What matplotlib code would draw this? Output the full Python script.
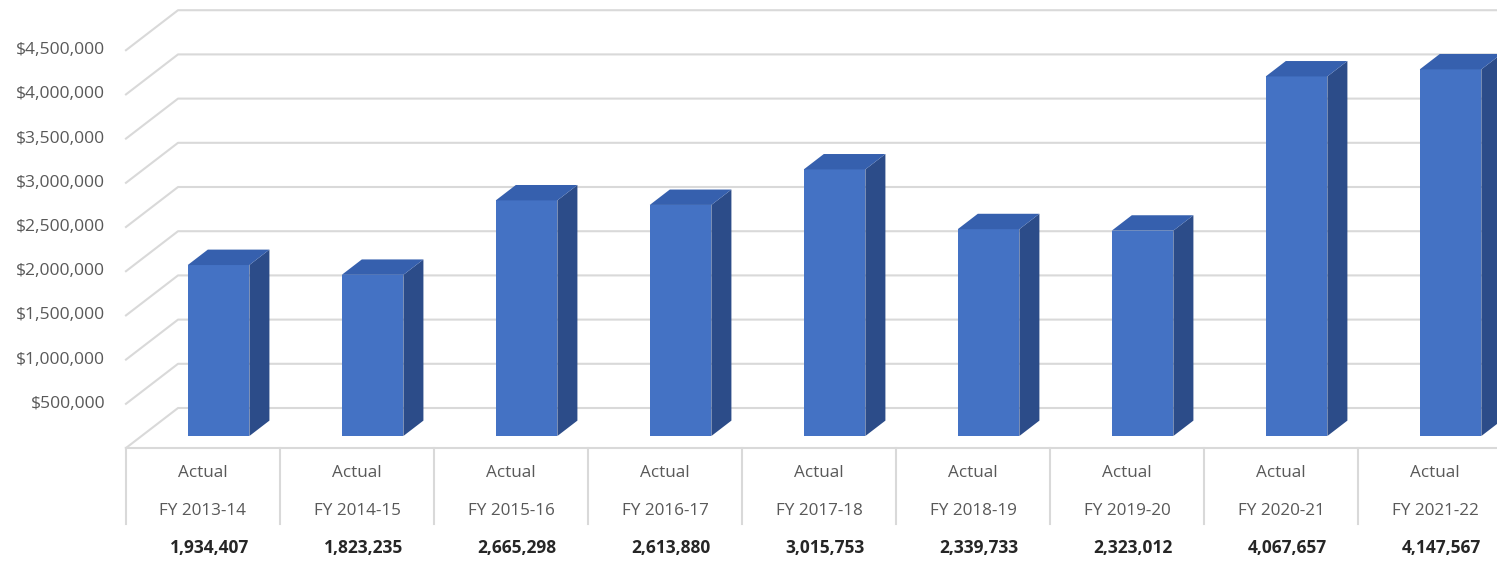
import numpy as np
import matplotlib.pyplot as plt

years = ['FY 2013-14', 'FY 2014-15', 'FY 2015-16', 'FY 2016-17', 'FY 2017-18',
         'FY 2018-19', 'FY 2019-20', 'FY 2020-21', 'FY 2021-22']
values = [1934407, 1823235, 2665298, 2613880, 3015753,
          2339733, 2323012, 4067657, 4147567]
yticks = [500000, 1000000, 1500000, 2000000, 2500000,
          3000000, 3500000, 4000000, 4500000]

plt.rcParams['font.family'] = ['Open Sans', 'DejaVu Sans']

front = '#4472C4'
top = '#3660AE'
side = '#2C4C89'
grid = '#D9D9D9'
txt = '#595959'

fig = plt.figure(figsize=[14.97, 5.65], dpi=100)
ax = fig.add_axes([0, 0, 1, 1])
ax.set_xlim(-1.318, 8.403)
ax.set_ylim(-1.3235e6, 5.068e6)
ax.axis('off')

# depth of the pseudo 3d box (category units, dollars)
ddx, ddy = 0.338, 0.4525e6
x0 = -0.5
xr = 8.403

# back wall gridlines and left wall diagonals
for v in [0] + yticks:
    ax.plot([x0, x0 + ddx, xr], [v, v + ddy, v + ddy], color=grid, lw=1.5, zorder=1)
    if v > 0:
        ax.text(x0 - 0.136, v, '${:,}'.format(v), ha='right', va='center',
                fontsize=12.6, color=txt)

# front floor edge / table top
ax.plot([x0, xr], [0, 0], color=grid, lw=1.5, zorder=1)

# bars
d0, d1 = 0.3, 0.685
w = 0.40
for i, v in enumerate(values):
    xl = i + d0 * ddx - w / 2
    xR = xl + w
    yb = d0 * ddy
    yt = yb + v
    sx = (d1 - d0) * ddx
    sy = (d1 - d0) * ddy
    ax.fill([xl, xR, xR, xl], [yb, yb, yt, yt], color=front, zorder=3, lw=0)
    ax.fill([xR, xR + sx, xR + sx, xR], [yb, yb + sy, yt + sy, yt], color=side, zorder=3, lw=0)
    ax.fill([xl, xR, xR + sx, xl + sx], [yt, yt, yt + sy, yt + sy], color=top, zorder=3, lw=0)

# category table
for k in range(len(years) + 1):
    ax.plot([x0 + k, x0 + k], [0, -0.86e6], color=grid, lw=1.5, zorder=1)
for i, (y, v) in enumerate(zip(years, values)):
    ax.text(i, -0.283e6, 'Actual', ha='center', va='center', fontsize=12.3, color=txt)
    ax.text(i, -0.713e6, y, ha='center', va='center', fontsize=12.3, color=txt)
    ax.text(i + 0.04, -1.131e6, '{:,}'.format(v), ha='center', va='center',
            fontsize=12.5, fontweight='bold', color='#262626')

fig.savefig('out.png', dpi=100)
